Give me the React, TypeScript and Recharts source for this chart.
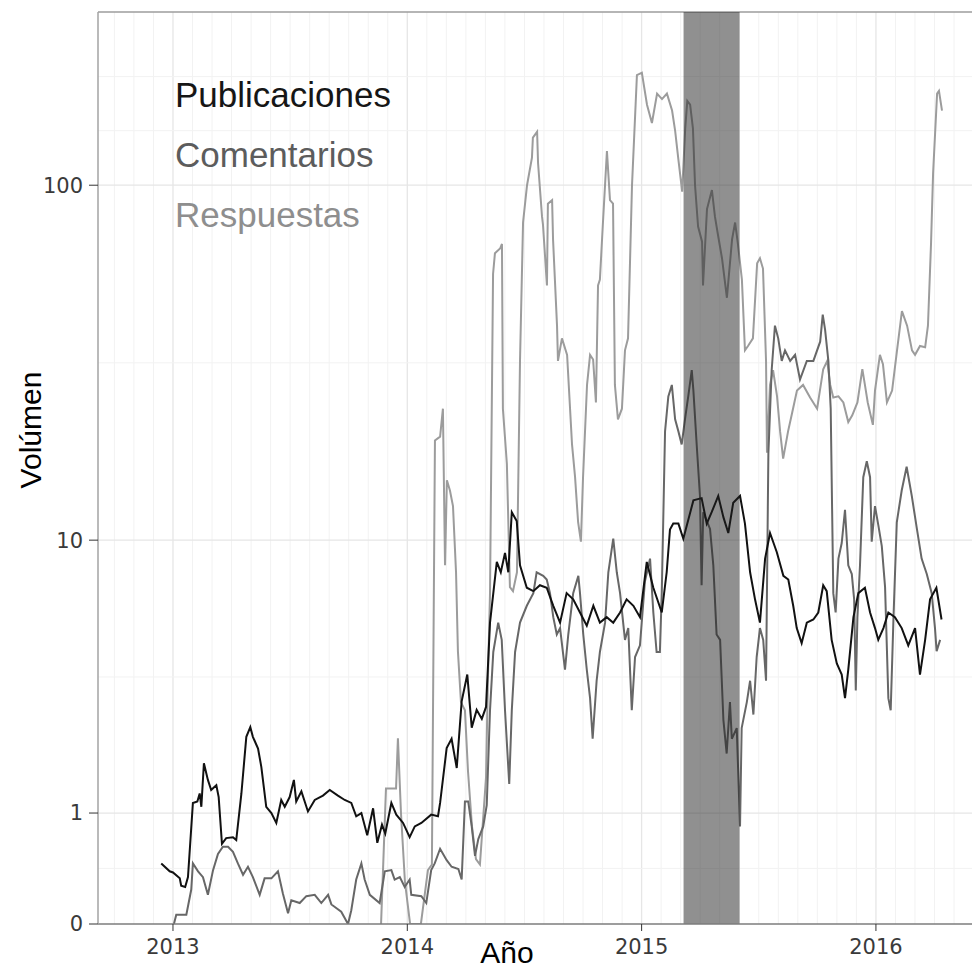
import { Legend, Line, LineChart, ReferenceArea, ReferenceLine, XAxis, YAxis } from "recharts";

// [año decimal, volumen]
const publicaciones: [number, number][] = [
  [2012.95, 0.46], [2012.986, 0.39], [2013.0, 0.38], [2013.029, 0.33], [2013.035, 0.27], [2013.052, 0.26],
  [2013.064, 0.34], [2013.085, 1.13], [2013.104, 1.15], [2013.114, 1.26], [2013.121, 1.08], [2013.132, 1.73],
  [2013.149, 1.46], [2013.163, 1.31], [2013.185, 1.38], [2013.195, 1.21], [2013.209, 0.65], [2013.227, 0.71],
  [2013.256, 0.72], [2013.27, 0.69], [2013.292, 1.26], [2013.313, 2.22], [2013.33, 2.42], [2013.341, 2.22],
  [2013.363, 1.99], [2013.377, 1.67], [2013.398, 1.08], [2013.42, 1.0], [2013.441, 0.88], [2013.462, 1.17],
  [2013.477, 1.08], [2013.498, 1.21], [2013.516, 1.46], [2013.526, 1.15], [2013.548, 1.29], [2013.576, 1.02],
  [2013.605, 1.17], [2013.64, 1.23], [2013.669, 1.31], [2013.704, 1.23], [2013.733, 1.17], [2013.761, 1.13],
  [2013.782, 0.96], [2013.804, 1.0], [2013.829, 0.74], [2013.854, 1.06], [2013.872, 0.66], [2013.892, 0.86],
  [2013.906, 0.76], [2013.932, 1.13], [2013.953, 0.98], [2013.982, 0.88], [2014.01, 0.72], [2014.032, 0.84],
  [2014.06, 0.88], [2014.102, 0.98], [2014.131, 0.96], [2014.14, 1.13], [2014.168, 2.0], [2014.189, 2.18],
  [2014.211, 1.65], [2014.232, 3.02], [2014.256, 3.75], [2014.275, 2.41], [2014.296, 2.81], [2014.318, 2.6],
  [2014.336, 2.88], [2014.353, 5.57], [2014.382, 8.6], [2014.399, 8.0], [2014.417, 9.16], [2014.431, 8.0],
  [2014.446, 12.1], [2014.467, 11.4], [2014.481, 8.4], [2014.51, 7.17], [2014.538, 7.0], [2014.566, 7.3],
  [2014.595, 7.17], [2014.623, 6.3], [2014.652, 5.57], [2014.68, 6.9], [2014.708, 6.6], [2014.737, 6.0],
  [2014.766, 5.45], [2014.794, 6.3], [2014.822, 5.57], [2014.851, 5.8], [2014.879, 5.57], [2014.908, 6.0],
  [2014.936, 6.6], [2014.965, 6.3], [2014.993, 5.8], [2015.022, 8.6], [2015.05, 7.17], [2015.086, 6.0],
  [2015.107, 8.0], [2015.121, 10.75], [2015.135, 11.2], [2015.157, 11.2], [2015.178, 10.1], [2015.221, 13.1],
  [2015.256, 13.3], [2015.278, 11.2], [2015.299, 12.1], [2015.327, 13.5], [2015.349, 11.7], [2015.37, 10.5],
  [2015.391, 12.9], [2015.42, 13.5], [2015.441, 11.2], [2015.463, 8.0], [2015.484, 6.6], [2015.505, 5.57],
  [2015.527, 8.8], [2015.548, 10.5], [2015.577, 9.2], [2015.605, 7.8], [2015.626, 7.6], [2015.647, 6.3],
  [2015.662, 5.35], [2015.683, 4.78], [2015.705, 5.57], [2015.733, 5.7], [2015.754, 6.0], [2015.775, 7.3],
  [2015.79, 7.0], [2015.811, 4.9], [2015.833, 4.09], [2015.854, 3.75], [2015.868, 3.1], [2015.882, 3.9],
  [2015.904, 5.8], [2015.925, 6.9], [2015.953, 7.17], [2015.975, 6.0], [2015.996, 5.35], [2016.01, 4.9],
  [2016.032, 5.35], [2016.053, 6.0], [2016.081, 5.8], [2016.11, 5.35], [2016.138, 4.7], [2016.167, 5.35],
  [2016.188, 3.75], [2016.21, 4.9], [2016.231, 6.6], [2016.258, 7.17], [2016.28, 5.7],
];

const comentarios: [number, number][] = [
  [2013.004, 0], [2013.014, 0.06], [2013.057, 0.06], [2013.078, 0.24], [2013.085, 0.46], [2013.107, 0.39],
  [2013.128, 0.34], [2013.149, 0.2], [2013.171, 0.4], [2013.192, 0.55], [2013.213, 0.62], [2013.235, 0.62],
  [2013.256, 0.57], [2013.277, 0.46], [2013.299, 0.36], [2013.32, 0.43], [2013.341, 0.34], [2013.37, 0.2],
  [2013.391, 0.33], [2013.42, 0.33], [2013.448, 0.39], [2013.469, 0.21], [2013.491, 0.07], [2013.505, 0.16],
  [2013.541, 0.14], [2013.569, 0.19], [2013.605, 0.2], [2013.633, 0.14], [2013.662, 0.2], [2013.676, 0.13],
  [2013.718, 0.08], [2013.747, 0], [2013.761, 0.09], [2013.782, 0.32], [2013.804, 0.46], [2013.818, 0.32],
  [2013.84, 0.2], [2013.882, 0.14], [2013.904, 0.39], [2013.932, 0.4], [2013.946, 0.32], [2013.968, 0.34],
  [2013.989, 0.26], [2014.01, 0.32], [2014.017, 0.2], [2014.06, 0.19], [2014.081, 0.14], [2014.102, 0.4],
  [2014.117, 0.46], [2014.14, 0.6], [2014.168, 0.49], [2014.189, 0.43], [2014.218, 0.41], [2014.232, 0.32],
  [2014.246, 1.15], [2014.26, 1.15], [2014.275, 0.84], [2014.289, 0.53], [2014.303, 0.7], [2014.324, 0.84],
  [2014.339, 1.1], [2014.353, 2.8], [2014.367, 4.47], [2014.388, 5.57], [2014.403, 4.9], [2014.417, 2.8],
  [2014.435, 1.4], [2014.446, 2.8], [2014.46, 4.47], [2014.481, 5.57], [2014.51, 6.3], [2014.538, 6.9],
  [2014.552, 8.0], [2014.58, 7.8], [2014.595, 7.6], [2014.609, 6.9], [2014.623, 5.8], [2014.638, 5.1],
  [2014.652, 5.35], [2014.673, 3.9], [2014.687, 5.1], [2014.708, 6.9], [2014.73, 7.8], [2014.737, 6.9],
  [2014.751, 5.1], [2014.766, 3.9], [2014.78, 3.1], [2014.791, 2.18], [2014.808, 3.57], [2014.822, 4.47],
  [2014.844, 5.57], [2014.858, 8.0], [2014.879, 10.1], [2014.894, 8.0], [2014.908, 6.9], [2014.929, 4.9],
  [2014.943, 5.35], [2014.958, 2.8], [2014.972, 4.3], [2014.993, 4.7], [2015.014, 7.5], [2015.036, 8.8],
  [2015.05, 6.0], [2015.064, 4.47], [2015.078, 4.47], [2015.086, 6.9], [2015.1, 20.7], [2015.114, 26],
  [2015.129, 28], [2015.143, 22.4], [2015.157, 20.7], [2015.171, 19], [2015.185, 22.4], [2015.199, 26],
  [2015.214, 30.8], [2015.221, 27], [2015.235, 19], [2015.249, 13.5], [2015.256, 7.3], [2015.263, 12.1],
  [2015.292, 10.8], [2015.306, 8.4], [2015.32, 5.1], [2015.335, 4.9], [2015.349, 2.58], [2015.363, 1.9],
  [2015.377, 3.0], [2015.385, 2.18], [2015.406, 2.4], [2015.42, 0.84], [2015.427, 2.4], [2015.449, 3.0],
  [2015.463, 3.57], [2015.477, 2.7], [2015.491, 4.3], [2015.505, 5.35], [2015.519, 4.9], [2015.531, 3.57],
  [2015.541, 17.9], [2015.555, 30.8], [2015.569, 41], [2015.583, 37.8], [2015.598, 32.7], [2015.612, 35],
  [2015.634, 32.7], [2015.655, 34], [2015.676, 29], [2015.705, 32.7], [2015.733, 32.7], [2015.762, 37],
  [2015.773, 44], [2015.783, 40], [2015.797, 32.7], [2015.807, 24], [2015.818, 6.9], [2015.828, 6.0],
  [2015.84, 8.8], [2015.854, 9.8], [2015.868, 12.3], [2015.882, 8.4], [2015.897, 7.9], [2015.907, 6.6],
  [2015.914, 3.3], [2015.921, 5.8], [2015.932, 8.4], [2015.946, 15.3], [2015.961, 17], [2015.975, 15.3],
  [2015.982, 9.9], [2015.996, 12.6], [2016.01, 11.1], [2016.025, 9.6], [2016.039, 7.2], [2016.053, 3.1],
  [2016.063, 2.8], [2016.075, 5.8], [2016.089, 11.3], [2016.11, 14], [2016.131, 16.4], [2016.153, 13.5],
  [2016.174, 10.9], [2016.195, 8.8], [2016.217, 7.9], [2016.238, 6.9], [2016.252, 5.35], [2016.259, 4.5],
  [2016.274, 4.9],
];

const respuestas: [number, number][] = [
  [2013.888, 0], [2013.909, 1.33], [2013.952, 1.33], [2013.96, 2.19], [2013.973, 1.0], [2013.99, 0.3],
  [2014.012, 0], [2014.058, 0], [2014.088, 0.4], [2014.105, 0.45], [2014.118, 19.5], [2014.14, 20],
  [2014.152, 24], [2014.161, 8.4], [2014.169, 15], [2014.182, 14], [2014.195, 12.6], [2014.208, 8],
  [2014.216, 4.5], [2014.229, 3], [2014.246, 2.8], [2014.259, 1.6], [2014.276, 0.84], [2014.293, 0.5],
  [2014.31, 0.45], [2014.336, 1.5], [2014.344, 3.6], [2014.353, 6.9], [2014.366, 57], [2014.374, 65],
  [2014.396, 67], [2014.404, 69], [2014.408, 24], [2014.425, 16.7], [2014.438, 7.2], [2014.451, 7],
  [2014.468, 8], [2014.481, 32.7], [2014.494, 79], [2014.511, 100], [2014.532, 119], [2014.536, 135],
  [2014.554, 140], [2014.558, 115], [2014.575, 82], [2014.579, 78], [2014.596, 53], [2014.6, 89],
  [2014.618, 91], [2014.622, 71], [2014.639, 41], [2014.643, 32.7], [2014.66, 37.8], [2014.682, 34],
  [2014.703, 19], [2014.716, 15.3], [2014.729, 11.3], [2014.741, 9.9], [2014.75, 15.3], [2014.767, 28],
  [2014.78, 34], [2014.793, 33], [2014.805, 25], [2014.814, 53], [2014.822, 55], [2014.835, 79],
  [2014.852, 124], [2014.865, 91], [2014.878, 89], [2014.886, 28], [2014.899, 22.4], [2014.916, 24],
  [2014.929, 35], [2014.942, 37.8], [2014.959, 100], [2014.98, 200], [2015.001, 203], [2015.023, 166],
  [2015.044, 148], [2015.066, 178], [2015.087, 172], [2015.108, 178], [2015.13, 160], [2015.143, 141],
  [2015.156, 119], [2015.173, 96], [2015.186, 143], [2015.195, 170], [2015.207, 166], [2015.219, 143],
  [2015.228, 100], [2015.241, 77], [2015.258, 70], [2015.262, 53], [2015.279, 86], [2015.3, 97],
  [2015.313, 82], [2015.326, 73], [2015.343, 63], [2015.364, 49], [2015.386, 71], [2015.399, 79],
  [2015.411, 69], [2015.428, 55], [2015.441, 35], [2015.454, 36], [2015.475, 37.8], [2015.493, 61],
  [2015.505, 63], [2015.518, 59], [2015.531, 32.7], [2015.535, 18], [2015.548, 28], [2015.561, 30.8],
  [2015.578, 26], [2015.591, 20.7], [2015.604, 17.3], [2015.625, 20.7], [2015.642, 23.3], [2015.663, 27],
  [2015.689, 28], [2015.719, 25.8], [2015.749, 24], [2015.775, 31], [2015.792, 32.7], [2015.805, 28],
  [2015.818, 25.8], [2015.84, 26], [2015.861, 25], [2015.882, 22], [2015.899, 23], [2015.921, 25],
  [2015.942, 31], [2015.953, 28], [2015.965, 25], [2015.987, 21.6], [2015.996, 27], [2016.017, 34],
  [2016.03, 32], [2016.047, 25], [2016.069, 27], [2016.09, 35], [2016.111, 45], [2016.133, 41],
  [2016.154, 35], [2016.167, 34], [2016.188, 36], [2016.21, 35.7], [2016.222, 41], [2016.235, 68.7],
  [2016.244, 108], [2016.261, 178], [2016.269, 181], [2016.282, 160],
];

const yearTicks = [2013, 2014, 2015, 2016];
const volumeTicks = [0, 1, 10, 100];
const minorVolumes = [0.415, 3.68, 32.3, 141, 198];
const shadedPeriod = [2015.179, 2015.418];

const xDomain = [2012.68, 2016.41];
const yTop = 297; // volumen en el borde superior del panel

const series = [
  { name: "Publicaciones", rows: publicaciones, stroke: "#111111", text: "#161616" },
  { name: "Comentarios", rows: comentarios, stroke: "#676767", text: "#5c5c5c" },
  { name: "Respuestas", rows: respuestas, stroke: "#9c9c9c", text: "#8e8e8e" },
];

// lineas verticales mensuales del fondo
const monthLines: number[] = [];
for (let y = 2012; y <= 2016; y++) {
  for (let m = 1; m < 12; m++) {
    const t = y + m / 12;
    if (t > xDomain[0] && t < xDomain[1]) monthLines.push(t);
  }
}

const tickFont = { fontSize: 21, fill: "#3a3a3a", fontFamily: "DejaVu Sans" };
const titleFont = "Liberation Sans, Arial, sans-serif";

export default function App() {
  return (
    <div style={{ position: "absolute", left: 0, top: 0, width: 972, height: 968, background: "#fff" }}>
      <LineChart width={972} height={968} margin={{ top: 12, right: 0, bottom: 0, left: 0 }}>
        <XAxis
          type="number"
          dataKey="t"
          domain={xDomain}
          allowDataOverflow
          ticks={yearTicks}
          height={44}
          tick={tickFont}
          tickSize={7}
          tickMargin={8}
          tickLine={{ stroke: "#333" }}
          axisLine={{ stroke: "#7d7d7d", strokeWidth: 1.5 }}
          label={() => (
            <text x={507} y={963} textAnchor="middle" fontFamily={titleFont} fontSize={30} fill="#000">
              Año
            </text>
          )}
        />
        <YAxis
          type="number"
          scale="log"
          domain={[1, yTop + 1]}
          allowDataOverflow
          ticks={volumeTicks.map((v) => v + 1)}
          tickFormatter={(v: number) => String(Math.round(v - 1))}
          width={98}
          tick={tickFont}
          tickSize={9}
          tickMargin={6}
          tickLine={{ stroke: "#333" }}
          axisLine={{ stroke: "#a3a3a3", strokeWidth: 1.5 }}
          label={() => (
            <text
              x={41}
              y={430}
              transform="rotate(-90 41 430)"
              textAnchor="middle"
              fontFamily={titleFont}
              fontSize={30}
              fill="#000"
            >
              Volúmen
            </text>
          )}
        />

        {monthLines.map((t) => (
          <ReferenceLine key={`m${t}`} x={t} stroke="#f2f2f2" strokeWidth={1} />
        ))}
        {yearTicks.map((t) => (
          <ReferenceLine key={`y${t}`} x={t} stroke="#e6e6e6" strokeWidth={1.3} />
        ))}
        {minorVolumes.map((v) => (
          <ReferenceLine key={`n${v}`} y={v + 1} stroke="#f2f2f2" strokeWidth={1} />
        ))}
        {volumeTicks.slice(1).map((v) => (
          <ReferenceLine key={`v${v}`} y={v + 1} stroke="#e6e6e6" strokeWidth={1.3} />
        ))}
        <ReferenceLine y={yTop + 1} stroke="#9d9d9d" strokeWidth={1.5} />

        {[...series].reverse().map((s) => (
          <Line
            key={s.name}
            name={s.name}
            data={s.rows.map(([t, v]) => ({ t, v }))}
            dataKey={(d: { v: number }) => d.v + 1}
            type="linear"
            stroke={s.stroke}
            strokeWidth={2}
            dot={false}
            activeDot={false}
            isAnimationActive={false}
          />
        ))}

        <ReferenceArea
          x1={shadedPeriod[0]}
          x2={shadedPeriod[1]}
          fill="#222"
          fillOpacity={0.5}
          stroke="none"
          zIndex={450}
        />

        <Legend
          layout="vertical"
          align="center"
          verticalAlign="middle"
          wrapperStyle={{ left: 175, top: 65, width: 320 }}
          content={() => (
            <div style={{ fontFamily: titleFont, fontSize: 35, lineHeight: "60px" }}>
              {series.map((s) => (
                <div key={s.name} style={{ color: s.text }}>
                  {s.name}
                </div>
              ))}
            </div>
          )}
        />
      </LineChart>
    </div>
  );
}
